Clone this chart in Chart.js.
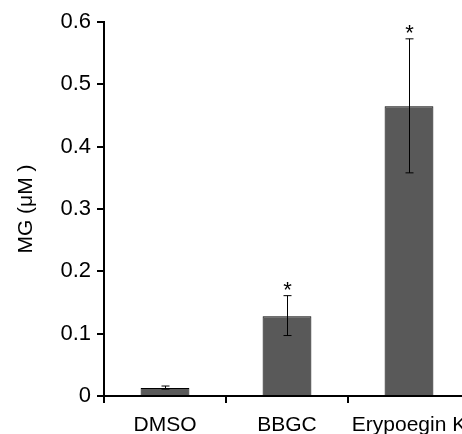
<!DOCTYPE html>
<html>
<head>
<meta charset="utf-8">
<script src="https://cdn.jsdelivr.net/npm/chart.js@4/dist/chart.umd.min.js"></script>
<style>
  html, body { margin: 0; padding: 0; background: #fff; overflow: hidden; }
  #wrap { width: 470px; height: 434px; }
</style>
</head>
<body>
<div id="wrap"><canvas id="myChart" width="470" height="434"></canvas></div>
<script>
const grupos = ["DMSO", "BBGC", "Erypoegin K"];
const medias = [0.013, 0.128, 0.465];
const erroBaixo = [0.011, 0.097, 0.358];
const erroAlto = [0.016, 0.161, 0.573];
const marcas = ["", "*", "*"];
const ticksY = [0, 0.1, 0.2, 0.3, 0.4, 0.5, 0.6];

Chart.defaults.font.family = "'Liberation Sans', Arial, sans-serif";
Chart.defaults.color = "#000";

// desenha barras de erro e asteriscos
const errosPlugin = {
  id: "erros",
  afterDatasetsDraw(chart) {
    const c = chart.ctx;
    const x = chart.scales.x;
    const y = chart.scales.y;
    c.save();
    c.strokeStyle = "#000";
    c.lineWidth = 1;
    grupos.forEach((g, i) => {
      const px = Math.round(x.getPixelForValue(i)) + 0.5;
      const top = y.getPixelForValue(erroAlto[i]);
      const bot = y.getPixelForValue(erroBaixo[i]);
      c.beginPath();
      c.moveTo(px, top);
      c.lineTo(px, bot);
      c.moveTo(px - 4, top);
      c.lineTo(px + 4, top);
      c.moveTo(px - 4, bot);
      c.lineTo(px + 4, bot);
      c.stroke();
      if (marcas[i]) {
        c.fillStyle = "#000";
        c.font = "22px 'Liberation Sans', Arial, sans-serif";
        c.textAlign = "center";
        c.textBaseline = "middle";
        c.fillText(marcas[i], px, top - 5);
      }
    });
    c.restore();
  },
};

const ctx = document.getElementById("myChart");
const grafico = new Chart(ctx, {
  type: "bar",
  data: {
    labels: grupos,
    datasets: [
      {
        data: medias,
        backgroundColor: "#595959",
        borderColor: "#000",
        borderWidth: 1,
        barPercentage: 0.4,
        categoryPercentage: 1,
      },
    ],
  },
  options: {
    responsive: false,
    animation: false,
    layout: { padding: { top: 22, right: 0, left: 0, bottom: 0 } },
    plugins: {
      legend: { display: false },
      tooltip: { enabled: false },
    },
    scales: {
      x: {
        grid: {
          drawOnChartArea: false,
          offset: true,
          color: "#000",
          lineWidth: 2,
          tickLength: 7,
        },
        border: { color: "#000", width: 2 },
        ticks: { font: { size: 21 }, padding: 10, maxRotation: 0, autoSkip: false },
        afterFit(s) {
          s.height = 38;
          s.paddingLeft = 0;
          s.paddingRight = 0;
        },
      },
      y: {
        min: 0,
        max: 0.6,
        afterBuildTicks(s) { s.ticks = ticksY.map((v) => ({ value: v })); },
        grid: {
          drawOnChartArea: false,
          color: "#000",
          lineWidth: 2,
          tickLength: 7,
        },
        border: { color: "#000", width: 2 },
        ticks: {
          font: { size: 22 },
          padding: 6,
          callback: (v) => String(v),
        },
        title: {
          display: true,
          text: "MG (μM )",
          font: { size: 21 },
          padding: { top: 14, bottom: 4 },
        },
        afterFit(s) {
          s.width = 104;
          s.paddingTop = 0;
          s.paddingBottom = 0;
        },
      },
    },
  },
  plugins: [errosPlugin],
});
</script>
</body>
</html>
